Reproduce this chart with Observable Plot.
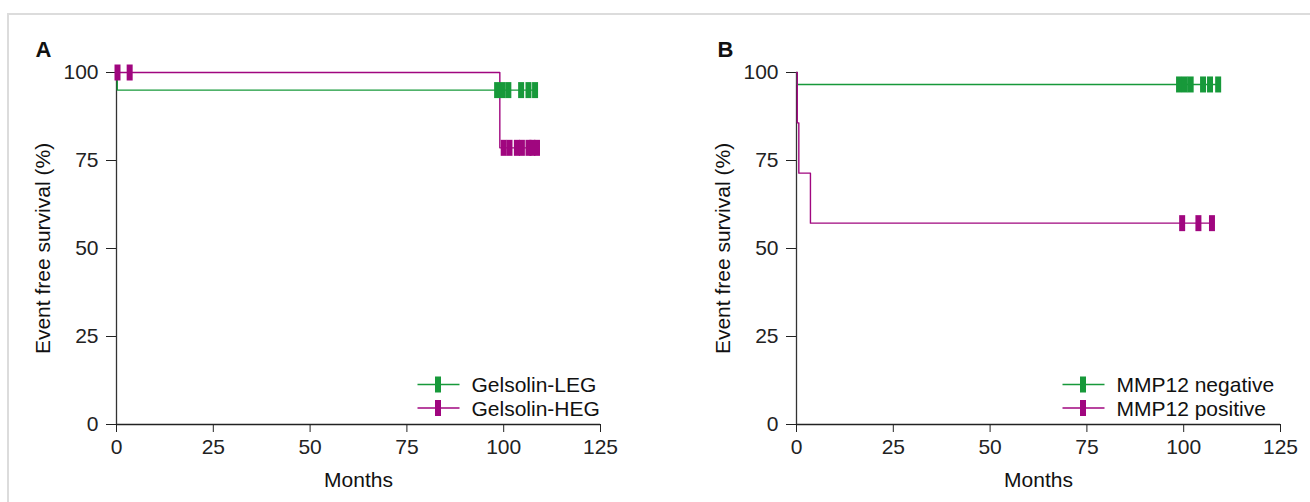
<!DOCTYPE html>
<html>
<head>
<meta charset="utf-8">
<script src="https://cdn.jsdelivr.net/npm/d3@7"></script>
<script src="https://cdn.jsdelivr.net/npm/@observablehq/plot@0.6"></script>
<style>
  html, body { margin: 0; padding: 0; background: #fff; overflow: hidden; }
  #wrap { position: relative; width: 1310px; height: 502px; overflow: hidden; font-family: "Liberation Sans", Arial, sans-serif; }
  #frame { position: absolute; left: 7px; top: 13px; width: 1400px; height: 600px; border-left: 2px solid #dcdcdc; border-top: 2px solid #dcdcdc; }
  .panel { position: absolute; top: 0; }
</style>
</head>
<body>
<div id="wrap"><div id="frame"></div></div>
<script>
// ---- Shared axes ----
const monthTicks = [0, 25, 50, 75, 100, 125];
const survivalTicks = [0, 25, 50, 75, 100];
const xLabel = "Months";
const yLabel = "Event free survival (%)";

// ---- Panel A: Gelsolin ----
const gelsolinLegName = "Gelsolin-LEG";
const gelsolinLegTime = [0, 0.2, 108.1];
const gelsolinLegSurv = [100, 95, 95];
const gelsolinLegCensor = [98.3, 99.7, 101.2, 104.5, 106.4, 108.1];

const gelsolinHegName = "Gelsolin-HEG";
const gelsolinHegTime = [0, 99, 108.6];
const gelsolinHegSurv = [100, 78.6, 78.6];
const gelsolinHegCensor = [0.26, 3.4, 100.0, 101.5, 103.4, 104.7, 106.4, 107.4, 108.6];

// ---- Panel B: MMP12 ----
const mmpNegName = "MMP12 negative";
const mmpNegTime = [0, 0.2, 108.9];
const mmpNegSurv = [100, 96.6, 96.6];
const mmpNegCensor = [98.8, 100.3, 101.8, 105.0, 106.8, 108.9];

const mmpPosName = "MMP12 positive";
const mmpPosTime = [0, 0.2, 0.6, 3.6, 107.3];
const mmpPosSurv = [100, 85.7, 71.4, 57.2, 57.2];
const mmpPosCensor = [99.6, 103.8, 107.3];

const green = "#17993a";
const magenta = "#a0067f";

// censor tick and legend swatch symbols
const censorSymbol = { draw(ctx) { ctx.rect(-3, -8, 6, 16); } };
const swatchLineSymbol = { draw(ctx) { ctx.moveTo(-21, 0); ctx.lineTo(21, 0); } };

function curve(name, color, time, surv, censor) {
  const points = time.map((t, i) => ({ time: t, surv: surv[i] }));
  const survAt = t => { let s = surv[0]; for (let i = 0; i < time.length; i++) if (time[i] <= t) s = surv[i]; return s; };
  const censors = censor.map(t => ({ time: t, surv: survAt(t) }));
  return { name, color, points, censors };
}

function panel({ letter, curves, left, width, marginRight, letterDx, swatchDx, textDx }) {
  const font = "'Liberation Sans', Arial, sans-serif";
  const marks = [
    Plot.ruleX([0], { stroke: "#333", strokeWidth: 1.3 }),
    Plot.ruleY([0], { stroke: "#222", strokeWidth: 1.3 })
  ];
  curves.forEach(c => {
    marks.push(Plot.line(c.points, { x: "time", y: "surv", curve: "step-after", stroke: c.color, strokeWidth: 1.4 }));
  });
  curves.forEach(c => {
    marks.push(Plot.dot(c.censors, { x: "time", y: "surv", symbol: censorSymbol, fill: c.color, stroke: "none" }));
  });
  // legend rows
  const swatchDy = [-40, -16.5];
  const textDy = [-38.8, -15.2];
  curves.forEach((c, i) => {
    marks.push(Plot.dot([c.name], { frameAnchor: "bottom-left", dx: swatchDx, dy: swatchDy[i], symbol: swatchLineSymbol, fill: "none", stroke: c.color, strokeWidth: 1.4 }));
    marks.push(Plot.dot([c.name], { frameAnchor: "bottom-left", dx: swatchDx - 0.5, dy: swatchDy[i], symbol: censorSymbol, fill: c.color, stroke: "none" }));
    marks.push(Plot.text([c.name], { frameAnchor: "bottom-left", dx: textDx, dy: textDy[i], textAnchor: "start", lineAnchor: "middle", fontSize: 21, fill: "#111" }));
  });
  // axis titles and panel letter
  marks.push(Plot.text([xLabel], { frameAnchor: "bottom", dy: 56, textAnchor: "middle", lineAnchor: "middle", fontSize: 21, fill: "#111" }));
  marks.push(Plot.text([yLabel], { frameAnchor: "left", rotate: -90, dx: -73, textAnchor: "middle", lineAnchor: "middle", fontSize: 21, fill: "#111" }));
  marks.push(Plot.text([letter], { frameAnchor: "top-left", dx: letterDx, dy: -23, textAnchor: "start", lineAnchor: "middle", fontSize: 22, fontWeight: "bold", fill: "#111" }));

  const svg = Plot.plot({
    width, height: 502,
    marginLeft: 116, marginRight, marginTop: 72, marginBottom: 78,
    style: { fontFamily: font, fontSize: "21px", color: "#222", background: "transparent", overflow: "visible" },
    x: { domain: [0, 125], ticks: monthTicks, tickSize: 8, tickPadding: 7, label: null },
    y: { domain: [0, 100], ticks: survivalTicks, tickSize: 10, tickPadding: 8, label: null },
    marks
  });
  svg.classList.add("panel");
  svg.style.left = left + "px";
  svg.style.position = "absolute";
  svg.style.top = "0px";
  document.getElementById("wrap").appendChild(svg);
}

panel({
  letter: "A",
  curves: [
    curve(gelsolinLegName, green, gelsolinLegTime, gelsolinLegSurv, gelsolinLegCensor),
    curve(gelsolinHegName, magenta, gelsolinHegTime, gelsolinHegSurv, gelsolinHegCensor)
  ],
  left: 0, width: 655, marginRight: 55,
  letterDx: -81, swatchDx: 322, textDx: 355
});

panel({
  letter: "B",
  curves: [
    curve(mmpNegName, green, mmpNegTime, mmpNegSurv, mmpNegCensor),
    curve(mmpPosName, magenta, mmpPosTime, mmpPosSurv, mmpPosCensor)
  ],
  left: 680, width: 630, marginRight: 30,
  letterDx: -79, swatchDx: 287, textDx: 320
});
</script>
</body>
</html>
